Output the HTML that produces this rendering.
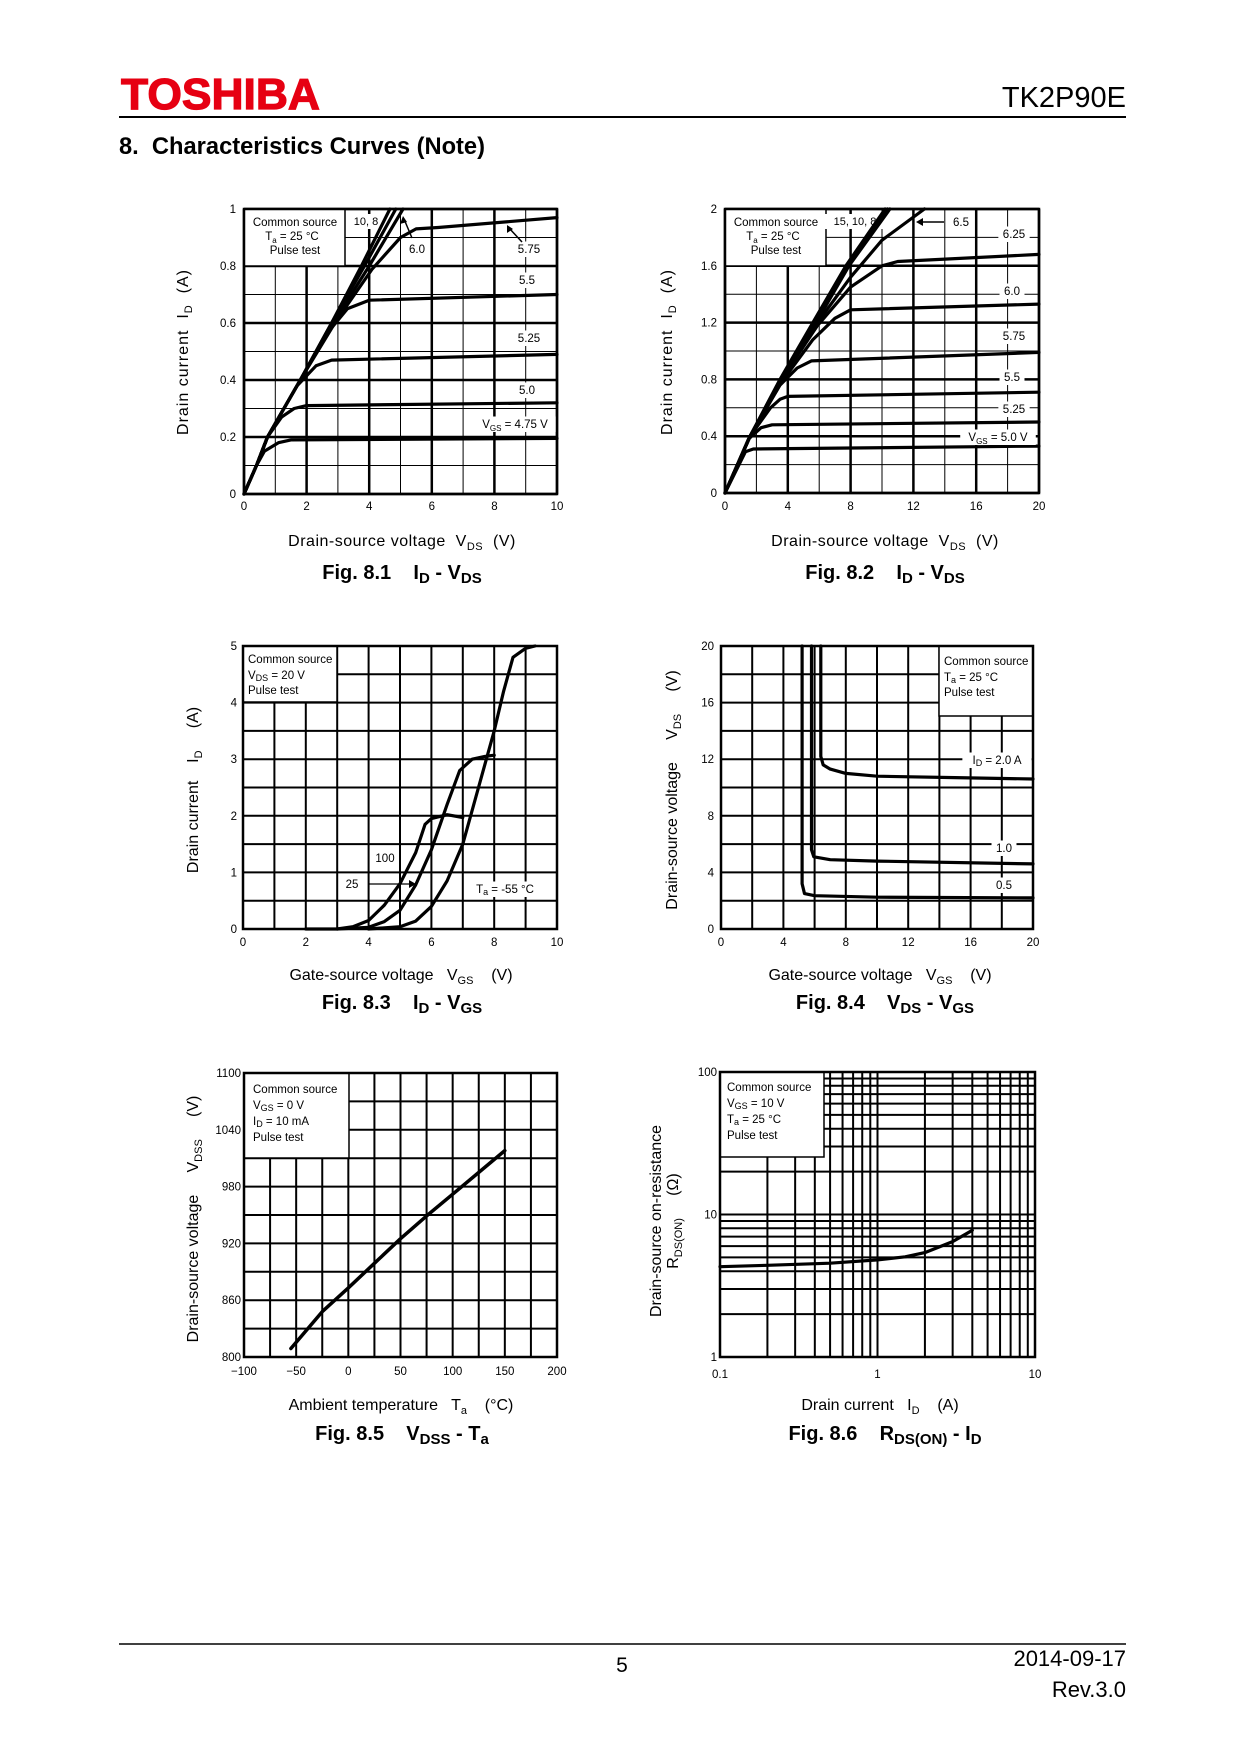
<!DOCTYPE html>
<html><head><meta charset="utf-8"><title>TK2P90E Characteristics Curves</title>
<style>
html,body{margin:0;padding:0;background:#fff;}
svg{display:block;font-family:"Liberation Sans",Arial,sans-serif;}
svg text{white-space:pre;}
</style></head>
<body>
<svg id="page" xmlns="http://www.w3.org/2000/svg" width="1240" height="1754" viewBox="0 0 1240 1754">
<rect x="0" y="0" width="1240" height="1754" fill="#fff"/>
<text x="121" y="109" font-size="44" font-weight="bold" fill="#e60012" stroke="#e60012" stroke-width="1.2" textLength="199" lengthAdjust="spacingAndGlyphs">TOSHIBA</text>
<text x="1126" y="107" font-size="29" text-anchor="end">TK2P90E</text>
<line x1="119" y1="117" x2="1126" y2="117" stroke="#000" stroke-width="2"/>
<text x="119" y="154" font-size="24" font-weight="bold" textLength="366" lengthAdjust="spacingAndGlyphs">8.  Characteristics Curves (Note)</text>

<g font-size="16">
<text transform="translate(188,352) rotate(-90)" text-anchor="middle" letter-spacing="1">Drain current  I<tspan font-size="11" dy="4">D</tspan><tspan dy="-4">  (A)</tspan></text>
<text x="402" y="546" text-anchor="middle" letter-spacing="0.5">Drain-source voltage  V<tspan font-size="11" dy="4">DS</tspan><tspan dy="-4">  (V)</tspan></text>
<text transform="translate(672,352) rotate(-90)" text-anchor="middle" letter-spacing="1">Drain current  I<tspan font-size="11" dy="4">D</tspan><tspan dy="-4">  (A)</tspan></text>
<text x="885" y="546" text-anchor="middle" letter-spacing="0.5">Drain-source voltage  V<tspan font-size="11" dy="4">DS</tspan><tspan dy="-4">  (V)</tspan></text>
<text transform="translate(198,790) rotate(-90)" text-anchor="middle">Drain current    I<tspan font-size="11" dy="4">D</tspan><tspan dy="-4">     (A)</tspan></text>
<text x="401" y="980" text-anchor="middle">Gate-source voltage   V<tspan font-size="11" dy="4">GS</tspan><tspan dy="-4">    (V)</tspan></text>
<text transform="translate(677,790) rotate(-90)" text-anchor="middle">Drain-source voltage     V<tspan font-size="11" dy="4">DS</tspan><tspan dy="-4">     (V)</tspan></text>
<text x="880" y="980" text-anchor="middle">Gate-source voltage   V<tspan font-size="11" dy="4">GS</tspan><tspan dy="-4">    (V)</tspan></text>
<text transform="translate(198,1219) rotate(-90)" text-anchor="middle">Drain-source voltage     V<tspan font-size="11" dy="4">DSS</tspan><tspan dy="-4">     (V)</tspan></text>
<text x="401" y="1410" text-anchor="middle">Ambient temperature   T<tspan font-size="11" dy="4">a</tspan><tspan dy="-4">    (°C)</tspan></text>
<text transform="translate(661,1221) rotate(-90)" text-anchor="middle">Drain-source on-resistance</text>
<text transform="translate(678,1221) rotate(-90)" text-anchor="middle">R<tspan font-size="11" dy="4">DS(ON)</tspan><tspan dy="-4">     (Ω)</tspan></text>
<text x="880" y="1410" text-anchor="middle">Drain current   I<tspan font-size="11" dy="4">D</tspan><tspan dy="-4">    (A)</tspan></text>
</g>
<g font-size="20" font-weight="bold">
<text x="402" y="579" text-anchor="middle">Fig. 8.1    I<tspan font-size="15" dy="4">D</tspan><tspan dy="-4"> - V</tspan><tspan font-size="15" dy="4">DS</tspan></text>
<text x="885" y="579" text-anchor="middle">Fig. 8.2    I<tspan font-size="15" dy="4">D</tspan><tspan dy="-4"> - V</tspan><tspan font-size="15" dy="4">DS</tspan></text>
<text x="402" y="1009" text-anchor="middle">Fig. 8.3    I<tspan font-size="15" dy="4">D</tspan><tspan dy="-4"> - V</tspan><tspan font-size="15" dy="4">GS</tspan></text>
<text x="885" y="1009" text-anchor="middle">Fig. 8.4    V<tspan font-size="15" dy="4">DS</tspan><tspan dy="-4"> - V</tspan><tspan font-size="15" dy="4">GS</tspan></text>
<text x="402" y="1440" text-anchor="middle">Fig. 8.5    V<tspan font-size="15" dy="4">DSS</tspan><tspan dy="-4"> - T</tspan><tspan font-size="15" dy="4">a</tspan></text>
<text x="885" y="1440" text-anchor="middle">Fig. 8.6    R<tspan font-size="15" dy="4">DS(ON)</tspan><tspan dy="-4"> - I</tspan><tspan font-size="15" dy="4">D</tspan></text>
</g>

<line x1="119" y1="1644" x2="1126" y2="1644" stroke="#000" stroke-width="1.5"/>
<text x="622" y="1672" font-size="21" text-anchor="middle">5</text>
<text x="1126" y="1666" font-size="22" text-anchor="end">2014-09-17</text>
<text x="1126" y="1697" font-size="22" text-anchor="end">Rev.3.0</text>
<g id="charts"></g>
</svg>
<script>
// ---------- Fig 8.1 data ----------
const f81XTicks = [0, 2, 4, 6, 8, 10];
const f81YTicks = [0, 0.2, 0.4, 0.6, 0.8, 1];
const f81YLabels = ['0', '0.2', '0.4', '0.6', '0.8', '1'];
const id81_v10 = [[0,0],[0.4,0.1],[0.75,0.2],[1.8,0.4],[2.8,0.6],[3.75,0.8],[4.66,1]];
const id81_v8 = [[0,0],[0.4,0.1],[0.75,0.2],[1.8,0.4],[2.8,0.6],[3.85,0.8],[4.85,1]];
const id81_v6 = [[0,0],[0.4,0.1],[0.75,0.2],[1.8,0.4],[2.85,0.6],[4,0.8],[5.08,1]];
const id81_v575 = [[0,0],[0.4,0.1],[0.75,0.2],[1.8,0.4],[2.9,0.6],[4.1,0.79],[5,0.9],[5.5,0.93],[6.2,0.935],[10,0.97]];
const id81_v55 = [[0,0],[0.4,0.1],[0.75,0.2],[1.8,0.4],[2.7,0.57],[3.3,0.65],[4,0.68],[10,0.70]];
const id81_v525 = [[0,0],[0.4,0.1],[0.75,0.2],[1.7,0.38],[2.3,0.45],[2.8,0.47],[10,0.49]];
const id81_v5 = [[0,0],[0.4,0.1],[0.75,0.2],[1.2,0.27],[1.6,0.3],[2,0.31],[10,0.32]];
const id81_v475 = [[0,0],[0.4,0.1],[0.65,0.15],[1.1,0.18],[1.5,0.19],[10,0.195]];
// ---------- Fig 8.2 data ----------
const f82XTicks = [0, 4, 8, 12, 16, 20];
const f82YTicks = [0, 0.4, 0.8, 1.2, 1.6, 2];
const f82YLabels = ['0', '0.4', '0.8', '1.2', '1.6', '2'];
const id82_v15 = [[0,0],[1.6,0.4],[3.5,0.8],[5.6,1.2],[7.7,1.6],[10.2,2]];
const id82_v10 = [[0,0],[1.6,0.4],[3.55,0.8],[5.7,1.2],[7.8,1.6],[10.35,2]];
const id82_v8 = [[0,0],[1.6,0.4],[3.6,0.8],[5.8,1.2],[7.9,1.6],[10.5,2]];
const id82_v65 = [[0,0],[1.6,0.4],[3.6,0.8],[5.9,1.2],[8,1.52],[10,1.78],[12.7,2]];
const id82_v625 = [[0,0],[1.6,0.4],[3.6,0.8],[5.9,1.18],[8,1.45],[10,1.6],[11,1.63],[20,1.68]];
const id82_v6 = [[0,0],[1.6,0.4],[3.6,0.78],[5.6,1.08],[7,1.23],[8,1.29],[20,1.33]];
const id82_v575 = [[0,0],[1.6,0.4],[3.5,0.76],[4.6,0.88],[5.5,0.93],[20,0.99]];
const id82_v55 = [[0,0],[1.6,0.4],[2.9,0.6],[3.5,0.66],[4,0.68],[20,0.71]];
const id82_v525 = [[0,0],[1.5,0.38],[2.3,0.46],[3,0.48],[20,0.50]];
const id82_v5 = [[0,0],[1.3,0.29],[1.8,0.31],[20,0.33]];
// ---------- Fig 8.3 data ----------
const f83XTicks = [0, 2, 4, 6, 8, 10];
const f83YTicks = [0, 1, 2, 3, 4, 5];
const id83_t100 = [[2,0],[3,0],[3.5,0.04],[4,0.15],[4.5,0.42],[5,0.8],[5.5,1.35],[5.8,1.85],[6,1.95],[6.5,2.02],[7,1.97]];
const id83_t25 = [[3,0],[4,0.03],[4.5,0.13],[5,0.33],[5.5,0.78],[6,1.4],[6.5,2.2],[6.9,2.8],[7.3,3.0],[7.7,3.05],[8,3.07]];
const id83_tm55 = [[4,0],[5,0.04],[5.5,0.14],[6,0.4],[6.5,0.85],[7,1.5],[7.5,2.5],[8,3.5],[8.3,4.2],[8.6,4.8],[9,4.96],[9.3,5]];
// ---------- Fig 8.4 data ----------
const f84XTicks = [0, 4, 8, 12, 16, 20];
const f84YTicks = [0, 4, 8, 12, 16, 20];
const vds84_i05 = [[5.2,20],[5.2,3.2],[5.35,2.5],[6,2.35],[10,2.25],[20,2.2]];
const vds84_i1 = [[5.8,20],[5.8,5.6],[5.95,5.1],[7,4.9],[10,4.8],[20,4.6]];
const vds84_i2 = [[6.4,20],[6.4,12.2],[6.55,11.6],[7,11.3],[8,11],[10,10.8],[15,10.7],[20,10.6]];
// ---------- Fig 8.5 data ----------
const f85XTicks = [-100, -50, 0, 50, 100, 150, 200];
const f85XLabels = ['\u2212100', '\u221250', '0', '50', '100', '150', '200'];
const f85YTicks = [800, 860, 920, 980, 1040, 1100];
const f85Temp = [-55, -25, 0, 25, 50, 75, 100, 125, 150];
const f85Vdss = [809, 848, 873, 899, 925, 949, 972, 995, 1018];
// ---------- Fig 8.6 data ----------
const f86XTicks = [0.1, 1, 10];
const f86XLabels = ['0.1', '1', '10'];
const f86YTicks = [1, 10, 100];
const f86Id = [0.1, 0.2, 0.5, 1, 1.5, 2, 3, 4];
const f86Rds = [4.3, 4.4, 4.55, 4.8, 5.05, 5.4, 6.45, 7.75];

const NS = 'http://www.w3.org/2000/svg';
const root = document.getElementById('charts');
function mk(tag, attrs, parent) {
  const e = document.createElementNS(NS, tag);
  for (const k in attrs) e.setAttribute(k, attrs[k]);
  (parent || root).appendChild(e);
  return e;
}
function linAxis(a0, a1, p0, p1) { return v => p0 + (v - a0) / (a1 - a0) * (p1 - p0); }
function logAxis(a0, a1, p0, p1) { return v => p0 + (Math.log10(v) - Math.log10(a0)) / (Math.log10(a1) - Math.log10(a0)) * (p1 - p0); }

function line(g, x1, y1, x2, y2, w) {
  return mk('line', {x1: x1, y1: y1, x2: x2, y2: y2, stroke: '#000', 'stroke-width': w}, g);
}
function drawSeries(g, pts, sx, sy, w, name) {
  const d = pts.map((p, i) => (i ? 'L' : 'M') + sx(p[0]).toFixed(1) + ',' + sy(p[1]).toFixed(1)).join(' ');
  const p = mk('path', {d: d, fill: 'none', stroke: '#000', 'stroke-width': w, 'stroke-linejoin': 'round', 'stroke-linecap': 'round'}, g);
  
  
  return p;
}
function label(g, x, y, s, size, anchor, bg) {
  if (bg) {
    const w = s.length * size * 0.55 + 6;
    const x0 = anchor === 'middle' ? x - w / 2 : (anchor === 'end' ? x - w : x - 3);
    mk('rect', {x: x0, y: y - size, width: w, height: size + 4, fill: '#fff'}, g);
  }
  const t = mk('text', {x: x, y: y, 'font-size': size, 'text-anchor': anchor || 'start'}, g);
  t.textContent = s;
  return t;
}
function legendBox(g, x, y, w, h) {
  const r = mk('rect', {x: x, y: y, width: w, height: h, fill: '#fff', stroke: '#000', 'stroke-width': 1.5}, g);
  
  
}
function frame(g, L, T, R, B) {
  const r = mk('rect', {x: L, y: T, width: R - L, height: B - T, fill: 'none', stroke: '#000', 'stroke-width': 2.5}, g);
  
  
}
function xTickLabels(g, ticks, labels, sx, y) {
  ticks.forEach((v, i) => {
    const t = label(g, sx(v), y, labels ? labels[i] : String(v), 11.5, 'middle');
    
    
  });
}
function yTickLabels(g, ticks, labels, sy, x) {
  ticks.forEach((v, i) => {
    const t = label(g, x, sy(v) + 4, labels ? labels[i] : String(v), 11.5, 'end');
    
    
  });
}
function linGrid(g, L, T, R, B, sx, sy, xs, xe, xStep, xMajor, ys, ye, yStep, yMajor, wMin, wMaj) {
  for (let v = xs; v <= xe + 1e-9; v += xStep) {
    const maj = Math.abs(Math.round(v / xMajor) * xMajor - v) < 1e-6;
    line(g, sx(v), T, sx(v), B, maj ? wMaj : wMin);
  }
  for (let v = ys; v <= ye + 1e-9; v += yStep) {
    const maj = Math.abs(Math.round(v / yMajor) * yMajor - v) < 1e-6;
    line(g, L, sy(v), R, sy(v), maj ? wMaj : wMin);
  }
}

// ===== Fig 8.1 =====
(function () {
  const L = 244, R = 557, T = 209, B = 494;
  const g = mk('g', {});
  
  
  const sx = linAxis(0, 10, L, R), sy = linAxis(0, 1, B, T);
  linGrid(g, L, T, R, B, sx, sy, 0, 10, 1, 2, 0, 1, 0.1, 0.2, 1, 2.5);
  legendBox(g, L, T, 101, 57);
  label(g, 295, 226, 'Common source', 11.5, 'middle');
  const ta = label(g, 292, 240, 'T', 11.5, 'middle');
  ta.innerHTML = 'T<tspan font-size="8" dy="3">a</tspan><tspan dy="-3"> = 25 °C</tspan>';
  label(g, 295, 254, 'Pulse test', 11.5, 'middle');
  label(g, 366, 225, '10, 8', 11, 'middle', true);
  label(g, 417, 253, '6.0', 11.5, 'middle', true);
  label(g, 529, 253, '5.75', 11.5, 'middle', true);
  label(g, 527, 284, '5.5', 11.5, 'middle', true);
  label(g, 529, 342, '5.25', 11.5, 'middle', true);
  label(g, 527, 394, '5.0', 11.5, 'middle', true);
  const vg = label(g, 515, 428, 'VGS = 4.75 V', 11.5, 'middle', true);
  vg.innerHTML = 'V<tspan font-size="8" dy="3">GS</tspan><tspan dy="-3"> = 4.75 V</tspan>';
  [id81_v10, id81_v8, id81_v6, id81_v575, id81_v55, id81_v525, id81_v5, id81_v475].forEach((s, i) => {
    drawSeries(g, s, sx, sy, 3.2, 'fig81-curve-' + i);
  });
  mk('line', {x1: 412, y1: 238, x2: 404, y2: 219, stroke: '#000', 'stroke-width': 1.5}, g);
  mk('path', {d: 'M403,216 L400,224 L407,222 Z', fill: '#000'}, g);
  mk('line', {x1: 522, y1: 242, x2: 509, y2: 228, stroke: '#000', 'stroke-width': 1.5}, g);
  mk('path', {d: 'M507,225 L507,233 L513,229 Z', fill: '#000'}, g);
  frame(g, L, T, R, B);
  xTickLabels(g, f81XTicks, null, sx, 510);
  yTickLabels(g, f81YTicks, f81YLabels, sy, 236);
})();

// ===== Fig 8.2 =====
(function () {
  const L = 725, R = 1039, T = 209, B = 493;
  const g = mk('g', {});
  
  
  const sx = linAxis(0, 20, L, R), sy = linAxis(0, 2, B, T);
  linGrid(g, L, T, R, B, sx, sy, 0, 20, 2, 4, 0, 2, 0.2, 0.4, 1, 2.5);
  legendBox(g, L, T, 101, 57);
  label(g, 776, 226, 'Common source', 11.5, 'middle');
  const ta = label(g, 773, 240, 'T', 11.5, 'middle');
  ta.innerHTML = 'T<tspan font-size="8" dy="3">a</tspan><tspan dy="-3"> = 25 °C</tspan>';
  label(g, 776, 254, 'Pulse test', 11.5, 'middle');
  label(g, 855, 225, '15, 10, 8', 11, 'middle', true);
  label(g, 961, 226, '6.5', 11.5, 'middle', true);
  label(g, 1014, 238, '6.25', 11.5, 'middle', true);
  label(g, 1012, 295, '6.0', 11.5, 'middle', true);
  label(g, 1014, 340, '5.75', 11.5, 'middle', true);
  label(g, 1012, 381, '5.5', 11.5, 'middle', true);
  label(g, 1014, 413, '5.25', 11.5, 'middle', true);
  [id82_v15, id82_v10, id82_v8, id82_v65, id82_v625, id82_v6, id82_v575, id82_v55, id82_v525, id82_v5].forEach((s, i) => {
    drawSeries(g, s, sx, sy, 3.2, 'fig82-curve-' + i);
  });
  const vg = label(g, 998, 441, 'VGS = 5.0 V', 11.5, 'middle', true);
  vg.innerHTML = 'V<tspan font-size="8" dy="3">GS</tspan><tspan dy="-3"> = 5.0 V</tspan>';
  mk('line', {x1: 944, y1: 222, x2: 920, y2: 222, stroke: '#000', 'stroke-width': 1.5}, g);
  mk('path', {d: 'M916,222 L923,218 L923,226 Z', fill: '#000'}, g);
  frame(g, L, T, R, B);
  xTickLabels(g, f82XTicks, null, sx, 510);
  yTickLabels(g, f82YTicks, f82YLabels, sy, 717);
})();

// ===== Fig 8.3 =====
(function () {
  const L = 243, R = 557, T = 646, B = 929;
  const g = mk('g', {});
  
  
  const sx = linAxis(0, 10, L, R), sy = linAxis(0, 5, B, T);
  linGrid(g, L, T, R, B, sx, sy, 0, 10, 1, 1, 0, 5, 0.5, 0.5, 2, 2);
  legendBox(g, L, T, 94, 56);
  label(g, 248, 663, 'Common source', 11.5, 'start');
  const vd = label(g, 248, 679, 'V', 11.5, 'start');
  vd.innerHTML = 'V<tspan font-size="9" dy="2">DS</tspan><tspan dy="-2"> = 20 V</tspan>';
  label(g, 248, 694, 'Pulse test', 11.5, 'start');
  label(g, 385, 862, '100', 11.5, 'middle', true);
  label(g, 352, 888, '25', 11.5, 'middle', true);
  [id83_t100, id83_t25, id83_tm55].forEach((s, i) => {
    drawSeries(g, s, sx, sy, 3.2, 'fig83-curve-' + i);
  });
  const tl = label(g, 505, 893, 'Ta = -55 °C', 11.5, 'middle', true);
  tl.innerHTML = 'T<tspan font-size="9" dy="2">a</tspan><tspan dy="-2"> = -55 °C</tspan>';
  mk('line', {x1: 368, y1: 884, x2: 412, y2: 884, stroke: '#000', 'stroke-width': 1.3}, g);
  mk('path', {d: 'M416,884 L409,880 L409,888 Z', fill: '#000'}, g);
  frame(g, L, T, R, B);
  xTickLabels(g, f83XTicks, null, sx, 946);
  yTickLabels(g, f83YTicks, null, sy, 237);
})();

// ===== Fig 8.4 =====
(function () {
  const L = 721, R = 1033, T = 646, B = 929;
  const g = mk('g', {});
  
  
  const sx = linAxis(0, 20, L, R), sy = linAxis(0, 20, B, T);
  linGrid(g, L, T, R, B, sx, sy, 0, 20, 2, 2, 0, 20, 2, 2, 2, 2);
  legendBox(g, 939, T, 94, 70);
  label(g, 944, 665, 'Common source', 11.5, 'start');
  const ta = label(g, 944, 681, 'T', 11.5, 'start');
  ta.innerHTML = 'T<tspan font-size="9" dy="2">a</tspan><tspan dy="-2"> = 25 °C</tspan>';
  label(g, 944, 696, 'Pulse test', 11.5, 'start');
  const il = label(g, 997, 764, 'ID = 2.0 A', 11.5, 'middle', true);
  il.innerHTML = 'I<tspan font-size="9" dy="2">D</tspan><tspan dy="-2"> = 2.0 A</tspan>';
  label(g, 1004, 852, '1.0', 11.5, 'middle', true);
  label(g, 1004, 889, '0.5', 11.5, 'middle', true);
  [vds84_i05, vds84_i1, vds84_i2].forEach((s, i) => {
    drawSeries(g, s, sx, sy, 3.2, 'fig84-curve-' + i);
  });
  frame(g, L, T, R, B);
  xTickLabels(g, f84XTicks, null, sx, 946);
  yTickLabels(g, f84YTicks, null, sy, 714);
})();

// ===== Fig 8.5 =====
(function () {
  const L = 244, R = 557, T = 1073, B = 1357;
  const g = mk('g', {});
  
  
  const sx = linAxis(-100, 200, L, R), sy = linAxis(800, 1100, B, T);
  linGrid(g, L, T, R, B, sx, sy, -100, 200, 25, 25, 800, 1100, 30, 30, 2, 2);
  legendBox(g, L, T, 105, 85);
  label(g, 253, 1093, 'Common source', 11.5, 'start');
  const vg = label(g, 253, 1109, 'V', 11.5, 'start');
  vg.innerHTML = 'V<tspan font-size="9" dy="2">GS</tspan><tspan dy="-2"> = 0 V</tspan>';
  const id = label(g, 253, 1125, 'I', 11.5, 'start');
  id.innerHTML = 'I<tspan font-size="9" dy="2">D</tspan><tspan dy="-2"> = 10 mA</tspan>';
  label(g, 253, 1141, 'Pulse test', 11.5, 'start');
  drawSeries(g, f85Temp.map((t, i) => [t, f85Vdss[i]]), sx, sy, 3.5, 'fig85-vdss-line');
  frame(g, L, T, R, B);
  xTickLabels(g, f85XTicks, f85XLabels, sx, 1375);
  yTickLabels(g, f85YTicks, null, sy, 241);
})();

// ===== Fig 8.6 =====
(function () {
  const L = 720, R = 1035, T = 1072, B = 1357;
  const g = mk('g', {});
  
  
  const sx = logAxis(0.1, 10, L, R), sy = logAxis(1, 100, B, T);
  [0.1, 1].forEach(d => { for (let k = 1; k <= 10; k++) line(g, sx(d * k), T, sx(d * k), B, 2); });
  [1, 10].forEach(d => { for (let k = 1; k <= 10; k++) line(g, L, sy(d * k), R, sy(d * k), 2); });
  legendBox(g, L, T, 104, 85);
  label(g, 727, 1091, 'Common source', 11.5, 'start');
  const vg = label(g, 727, 1107, 'V', 11.5, 'start');
  vg.innerHTML = 'V<tspan font-size="9" dy="2">GS</tspan><tspan dy="-2"> = 10 V</tspan>';
  const ta = label(g, 727, 1123, 'T', 11.5, 'start');
  ta.innerHTML = 'T<tspan font-size="9" dy="2">a</tspan><tspan dy="-2"> = 25 °C</tspan>';
  label(g, 727, 1139, 'Pulse test', 11.5, 'start');
  drawSeries(g, f86Id.map((x, i) => [x, f86Rds[i]]), sx, sy, 3.2, 'fig86-rds-line');
  frame(g, L, T, R, B);
  xTickLabels(g, f86XTicks, f86XLabels, sx, 1378);
  yTickLabels(g, f86YTicks, null, sy, 717);
})();
</script>
</body></html>
